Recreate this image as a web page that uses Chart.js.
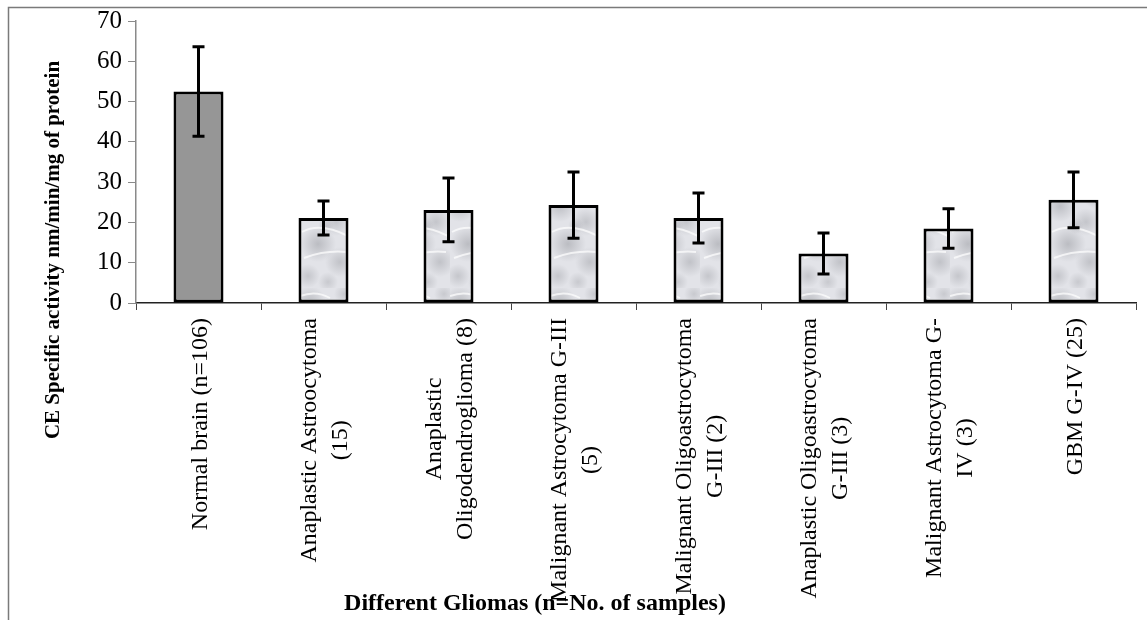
<!DOCTYPE html>
<html>
<head>
<meta charset="utf-8">
<script src="https://cdn.jsdelivr.net/npm/chart.js@4.4.1/dist/chart.umd.min.js"></script>
<style>
    html, body { margin: 0; padding: 0; background: #fff; }
    #wrap { position: relative; width: 1147px; height: 620px; }
</style>
</head>
<body>
<div id="wrap"><canvas id="chart-ce"></canvas></div>
<script>
const categories = [
    ['Normal brain (n=106)'],
    ['Anaplastic Astroocytoma', '(15)'],
    ['Anaplastic', 'Oligodendroglioma (8)'],
    ['Malignant Astrocytoma G-III', '(5)'],
    ['Malignant Oligoastrocytoma', 'G-III (2)'],
    ['Anaplastic Oligoastrocytoma', 'G-III (3)'],
    ['Malignant Astrocytoma G-', 'IV (3)'],
    ['GBM G-IV (25)'],
];

const ce_means = [52.5, 21.1, 23.1, 24.3, 21.1, 12.3, 18.5, 25.6];
const ce_errors = [11.1, 4.2, 7.9, 8.2, 6.2, 5.1, 4.9, 6.9];

const yTicks = [0, 10, 20, 30, 40, 50, 60, 70];

const serif = "'Liberation Serif', 'Times New Roman', serif";
Chart.defaults.font.family = serif;
Chart.defaults.color = '#000';

// light grey marble-ish fill for the tumour bars
function marblePattern() {
    const c = document.createElement('canvas');
    c.width = 50;
    c.height = 96;
    const g = c.getContext('2d');
    g.fillStyle = '#e2e3e8';
    g.fillRect(0, 0, 50, 96);
    const spots = [
        [10, 14, 16, 0.42], [36, 30, 14, 0.35], [18, 52, 18, 0.45],
        [40, 70, 15, 0.38], [8, 84, 12, 0.34], [28, 90, 10, 0.3],
        [44, 6, 10, 0.3], [26, 34, 8, 0.3],
    ];
    spots.forEach(s => {
        const rg = g.createRadialGradient(s[0], s[1], 0, s[0], s[1], s[2]);
        rg.addColorStop(0, 'rgba(140,142,148,' + s[3] + ')');
        rg.addColorStop(1, 'rgba(140,142,148,0)');
        g.fillStyle = rg;
        g.fillRect(0, 0, 50, 96);
    });
    g.strokeStyle = 'rgba(255,255,255,0.7)';
    g.lineWidth = 2;
    g.beginPath();
    g.moveTo(2, 40); g.quadraticCurveTo(20, 30, 48, 44);
    g.moveTo(4, 66); g.quadraticCurveTo(26, 58, 46, 60);
    g.moveTo(0, 8); g.quadraticCurveTo(16, 2, 30, 10);
    g.stroke();
    return g.createPattern(c, 'repeat');
}

const marble = marblePattern();
const barColors = ce_means.map((v, i) => i === 0 ? '#969696' : marble);

const frame = {
    id: 'frame',
    beforeDraw(chart) {
        const ctx = chart.ctx;
        ctx.save();
        ctx.strokeStyle = '#7a7a7a';
        ctx.lineWidth = 1.5;
        ctx.strokeRect(8.5, 7.5, 2000, 2000);
        ctx.restore();
    }
};

const errorBars = {
    id: 'errorBars',
    afterDatasetsDraw(chart) {
        const ctx = chart.ctx;
        const x = chart.scales.x;
        const y = chart.scales.y;
        ctx.save();
        ctx.strokeStyle = '#000';
        ctx.lineWidth = 3;
        ce_means.forEach((m, i) => {
            const px = x.getPixelForValue(i);
            const top = y.getPixelForValue(m + ce_errors[i]);
            const bot = y.getPixelForValue(m - ce_errors[i]);
            ctx.beginPath();
            ctx.moveTo(px, top); ctx.lineTo(px, bot);
            ctx.moveTo(px - 6, top); ctx.lineTo(px + 6, top);
            ctx.moveTo(px - 6, bot); ctx.lineTo(px + 6, bot);
            ctx.stroke();
        });
        ctx.restore();
    }
};

const axisText = {
    id: 'axisText',
    afterDraw(chart) {
        const ctx = chart.ctx;
        const x = chart.scales.x;
        ctx.save();
        ctx.fillStyle = '#000';
        ctx.textAlign = 'center';
        ctx.textBaseline = 'middle';

        // rotated category labels, lines centred on each other
        ctx.font = '24px ' + serif;
        categories.forEach((lines, i) => {
            const px = x.getPixelForValue(i);
            const w = Math.max(...lines.map(l => ctx.measureText(l).width));
            const cy = x.top + 15 + w / 2;
            ctx.save();
            ctx.translate(px, cy);
            ctx.rotate(-Math.PI / 2);
            lines.forEach((l, k) => {
                ctx.fillText(l, 0, (k - (lines.length - 1) / 2) * 31 + 2);
            });
            ctx.restore();
        });

        ctx.font = 'bold 24px ' + serif;
        ctx.fillText('Different Gliomas (n=No. of samples)', 535, 604);

        ctx.save();
        ctx.translate(54, 250);
        ctx.rotate(-Math.PI / 2);
        ctx.font = 'bold 21px ' + serif;
        ctx.fillText('CE Specific activity nm/min/mg of protein', 0, 0);
        ctx.restore();

        ctx.restore();
    }
};

const config = {
    type: 'bar',
    data: {
        labels: categories,
        datasets: [
            {
                label: 'CE specific activity',
                data: ce_means,
                backgroundColor: barColors,
                borderColor: '#000',
                borderWidth: 3,
                borderSkipped: false,
                barPercentage: 0.4,
                categoryPercentage: 1,
            }
        ]
    },
    options: {
        responsive: true,
        maintainAspectRatio: false,
        animation: false,
        layout: {
            padding: { left: 0, top: 21, right: 11, bottom: 0 }
        },
        scales: {
            x: {
                offset: true,
                grid: {
                    display: true,
                    offset: true,
                    drawOnChartArea: false,
                    drawTicks: true,
                    tickLength: 7,
                    color: '#444',
                },
                border: { color: '#222', width: 1.5 },
                ticks: { display: false },
                afterFit(scale) { scale.height = 317; },
            },
            y: {
                min: 0,
                max: 70,
                afterBuildTicks(scale) {
                    scale.ticks = yTicks.map(v => ({ value: v }));
                },
                grid: {
                    display: true,
                    drawOnChartArea: false,
                    drawTicks: true,
                    tickLength: 8,
                    color: '#8a8a8a',
                },
                border: { color: '#8a8a8a', width: 1.5 },
                ticks: {
                    font: { size: 25 },
                    color: '#000',
                    padding: 6,
                },
                afterFit(scale) { scale.width = 136; },
            }
        },
        plugins: {
            legend: { display: false },
            tooltip: { enabled: false },
        }
    },
    plugins: [frame, errorBars, axisText]
};

const chart_ce = new Chart(
    document.getElementById('chart-ce'),
    config
);
</script>
</body>
</html>
